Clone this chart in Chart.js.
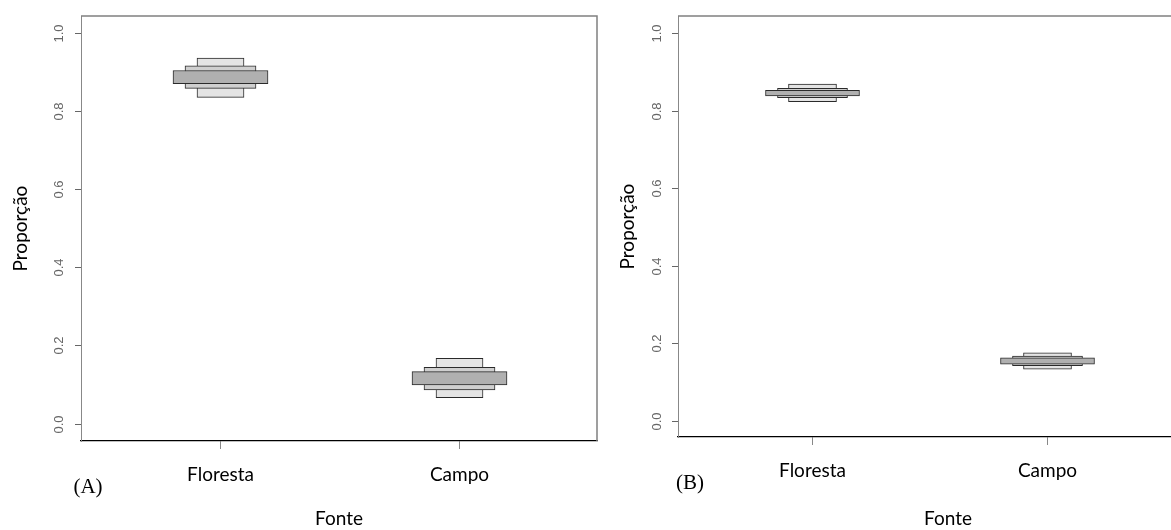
<!DOCTYPE html>
<html>
<head>
<meta charset="utf-8">
<script src="https://cdn.jsdelivr.net/npm/chart.js@4.4.1/dist/chart.umd.min.js"></script>
<style>
  html, body { margin: 0; padding: 0; background: #fff; overflow: hidden; }
  body { width: 1171px; height: 530px; position: relative; }
  .painel { position: absolute; top: 0; height: 530px; }
  #painelA { left: 0; width: 600px; }
  #painelB { left: 600px; width: 621px; }
</style>
</head>
<body>
<div class="painel" id="painelA"><canvas id="chartA"></canvas></div>
<div class="painel" id="painelB"><canvas id="chartB"></canvas></div>
<script>
// categorias e ticks
const categorias = ['Floresta', 'Campo'];
const ticksY = [0, 0.2, 0.4, 0.6, 0.8, 1.0];

// (A) intervalos de credibilidade 95%, 75%, 50%  -> [Floresta, Campo]
const a95min = [0.835, 0.066], a95max = [0.936, 0.167];
const a75min = [0.858, 0.086], a75max = [0.916, 0.144];
const a50min = [0.870, 0.099], a50max = [0.904, 0.133];

// (B)
const b95min = [0.823, 0.133], b95max = [0.868, 0.175];
const b75min = [0.833, 0.142], b75max = [0.857, 0.167];
const b50min = [0.838, 0.146], b50max = [0.852, 0.162];

function intervalos(lo, hi) {
    return categorias.map((c, i) => ({ x: i + 1, y: [lo[i], hi[i]] }));
}

function caixa(lo, hi, cor, largura) {
    return {
        data: intervalos(lo, hi),
        backgroundColor: cor,
        borderColor: '#2a2a2a',
        borderWidth: 1,
        borderSkipped: false,
        barThickness: largura,
        grouped: false
    };
}

// moldura do R + ticks/rótulos do eixo y girados + letra do painel
const moldura = {
    id: 'moldura',
    afterDraw(chart, args, o) {
        const { ctx, chartArea: a, scales } = chart;
        ctx.save();
        ctx.strokeStyle = '#808080';
        ctx.lineWidth = 1.5;
        ctx.beginPath();
        ctx.moveTo(a.left, a.top);
        ctx.lineTo(a.right, a.top);
        ctx.lineTo(a.right, a.bottom);
        ctx.stroke();

        ctx.fillStyle = '#666';
        ctx.strokeStyle = '#666';
        ctx.lineWidth = 1;
        ctx.font = '13px "Liberation Sans", Arial, sans-serif';
        ctx.textAlign = 'center';
        ctx.textBaseline = 'middle';
        scales.y.ticks.forEach(t => {
            const y = Math.round(scales.y.getPixelForValue(t.value)) + 0.5;
            ctx.beginPath();
            ctx.moveTo(a.left - 6, y);
            ctx.lineTo(a.left, y);
            ctx.stroke();
            ctx.save();
            ctx.translate(o.rotuloX, y);
            ctx.rotate(-Math.PI / 2);
            ctx.fillText(t.value.toFixed(1), 0, 0);
            ctx.restore();
        });

        ctx.fillStyle = '#000';
        ctx.font = '21px "Liberation Serif", "Times New Roman", serif';
        ctx.fillText(o.letra, o.letraX, o.letraY);
        ctx.restore();
    }
};

function painel(id, caixas, cfg) {
    return new Chart(document.getElementById(id), {
        type: 'bar',
        data: { datasets: caixas },
        plugins: [moldura],
        options: {
            responsive: true,
            maintainAspectRatio: false,
            animation: false,
            devicePixelRatio: 1,
            layout: { padding: { top: 16, right: 3, left: 0, bottom: 0 } },
            plugins: {
                legend: { display: false },
                tooltip: { enabled: false },
                moldura: cfg.moldura
            },
            scales: {
                x: {
                    type: 'linear',
                    min: cfg.xMin,
                    max: cfg.xMax,
                    offset: false,
                    afterBuildTicks: s => { s.ticks = categorias.map((c, i) => ({ value: i + 1 })); },
                    afterFit: s => { s.height = cfg.alturaX; },
                    ticks: {
                        color: '#000',
                        padding: 14,
                        maxRotation: 0,
                        font: { family: 'Lato', size: 19 },
                        callback: v => categorias[v - 1]
                    },
                    grid: { offset: false, drawOnChartArea: false, drawTicks: true, tickLength: 8, tickColor: '#888' },
                    border: { color: '#000', width: 1.3 },
                    title: {
                        display: true,
                        text: 'Fonte',
                        color: '#000',
                        font: { family: 'Lato', size: 19 },
                        padding: { top: 0, bottom: 0 }
                    }
                },
                y: {
                    min: cfg.yMin,
                    max: cfg.yMax,
                    afterBuildTicks: s => { s.ticks = ticksY.map(v => ({ value: v })); },
                    afterFit: s => { s.width = cfg.larguraY; },
                    // ticks e rótulos desenhados pelo plugin (girados como no R)
                    ticks: { display: false },
                    grid: { display: false },
                    border: { color: '#888', width: 1 },
                    title: {
                        display: true,
                        text: 'Proporção',
                        color: '#000',
                        font: { family: 'Lato', size: 19 },
                        padding: { top: cfg.tituloY, bottom: 0 }
                    }
                }
            }
        }
    });
}

painel('chartA', [
    caixa(a50min, a50max, '#b0b0b0', 95),
    caixa(a75min, a75max, '#cfcfcf', 71),
    caixa(a95min, a95max, '#e4e4e4', 47)
], {
    xMin: 0.4163, xMax: 2.5753, yMin: -0.0448, yMax: 1.0435,
    larguraY: 81, alturaX: 89, tituloY: 9,
    moldura: { rotuloX: 59, letra: '(A)', letraX: 88, letraY: 487 }
});

painel('chartB', [
    caixa(b50min, b50max, '#b0b0b0', 94),
    caixa(b75min, b75max, '#cfcfcf', 70),
    caixa(b95min, b95max, '#e4e4e4', 48)
], {
    xMin: 0.4277, xMax: 2.7255, yMin: -0.042, yMax: 1.0438,
    larguraY: 78, alturaX: 93, tituloY: 16,
    moldura: { rotuloX: 57, letra: '(B)', letraX: 90, letraY: 483 }
});
</script>
</body>
</html>
